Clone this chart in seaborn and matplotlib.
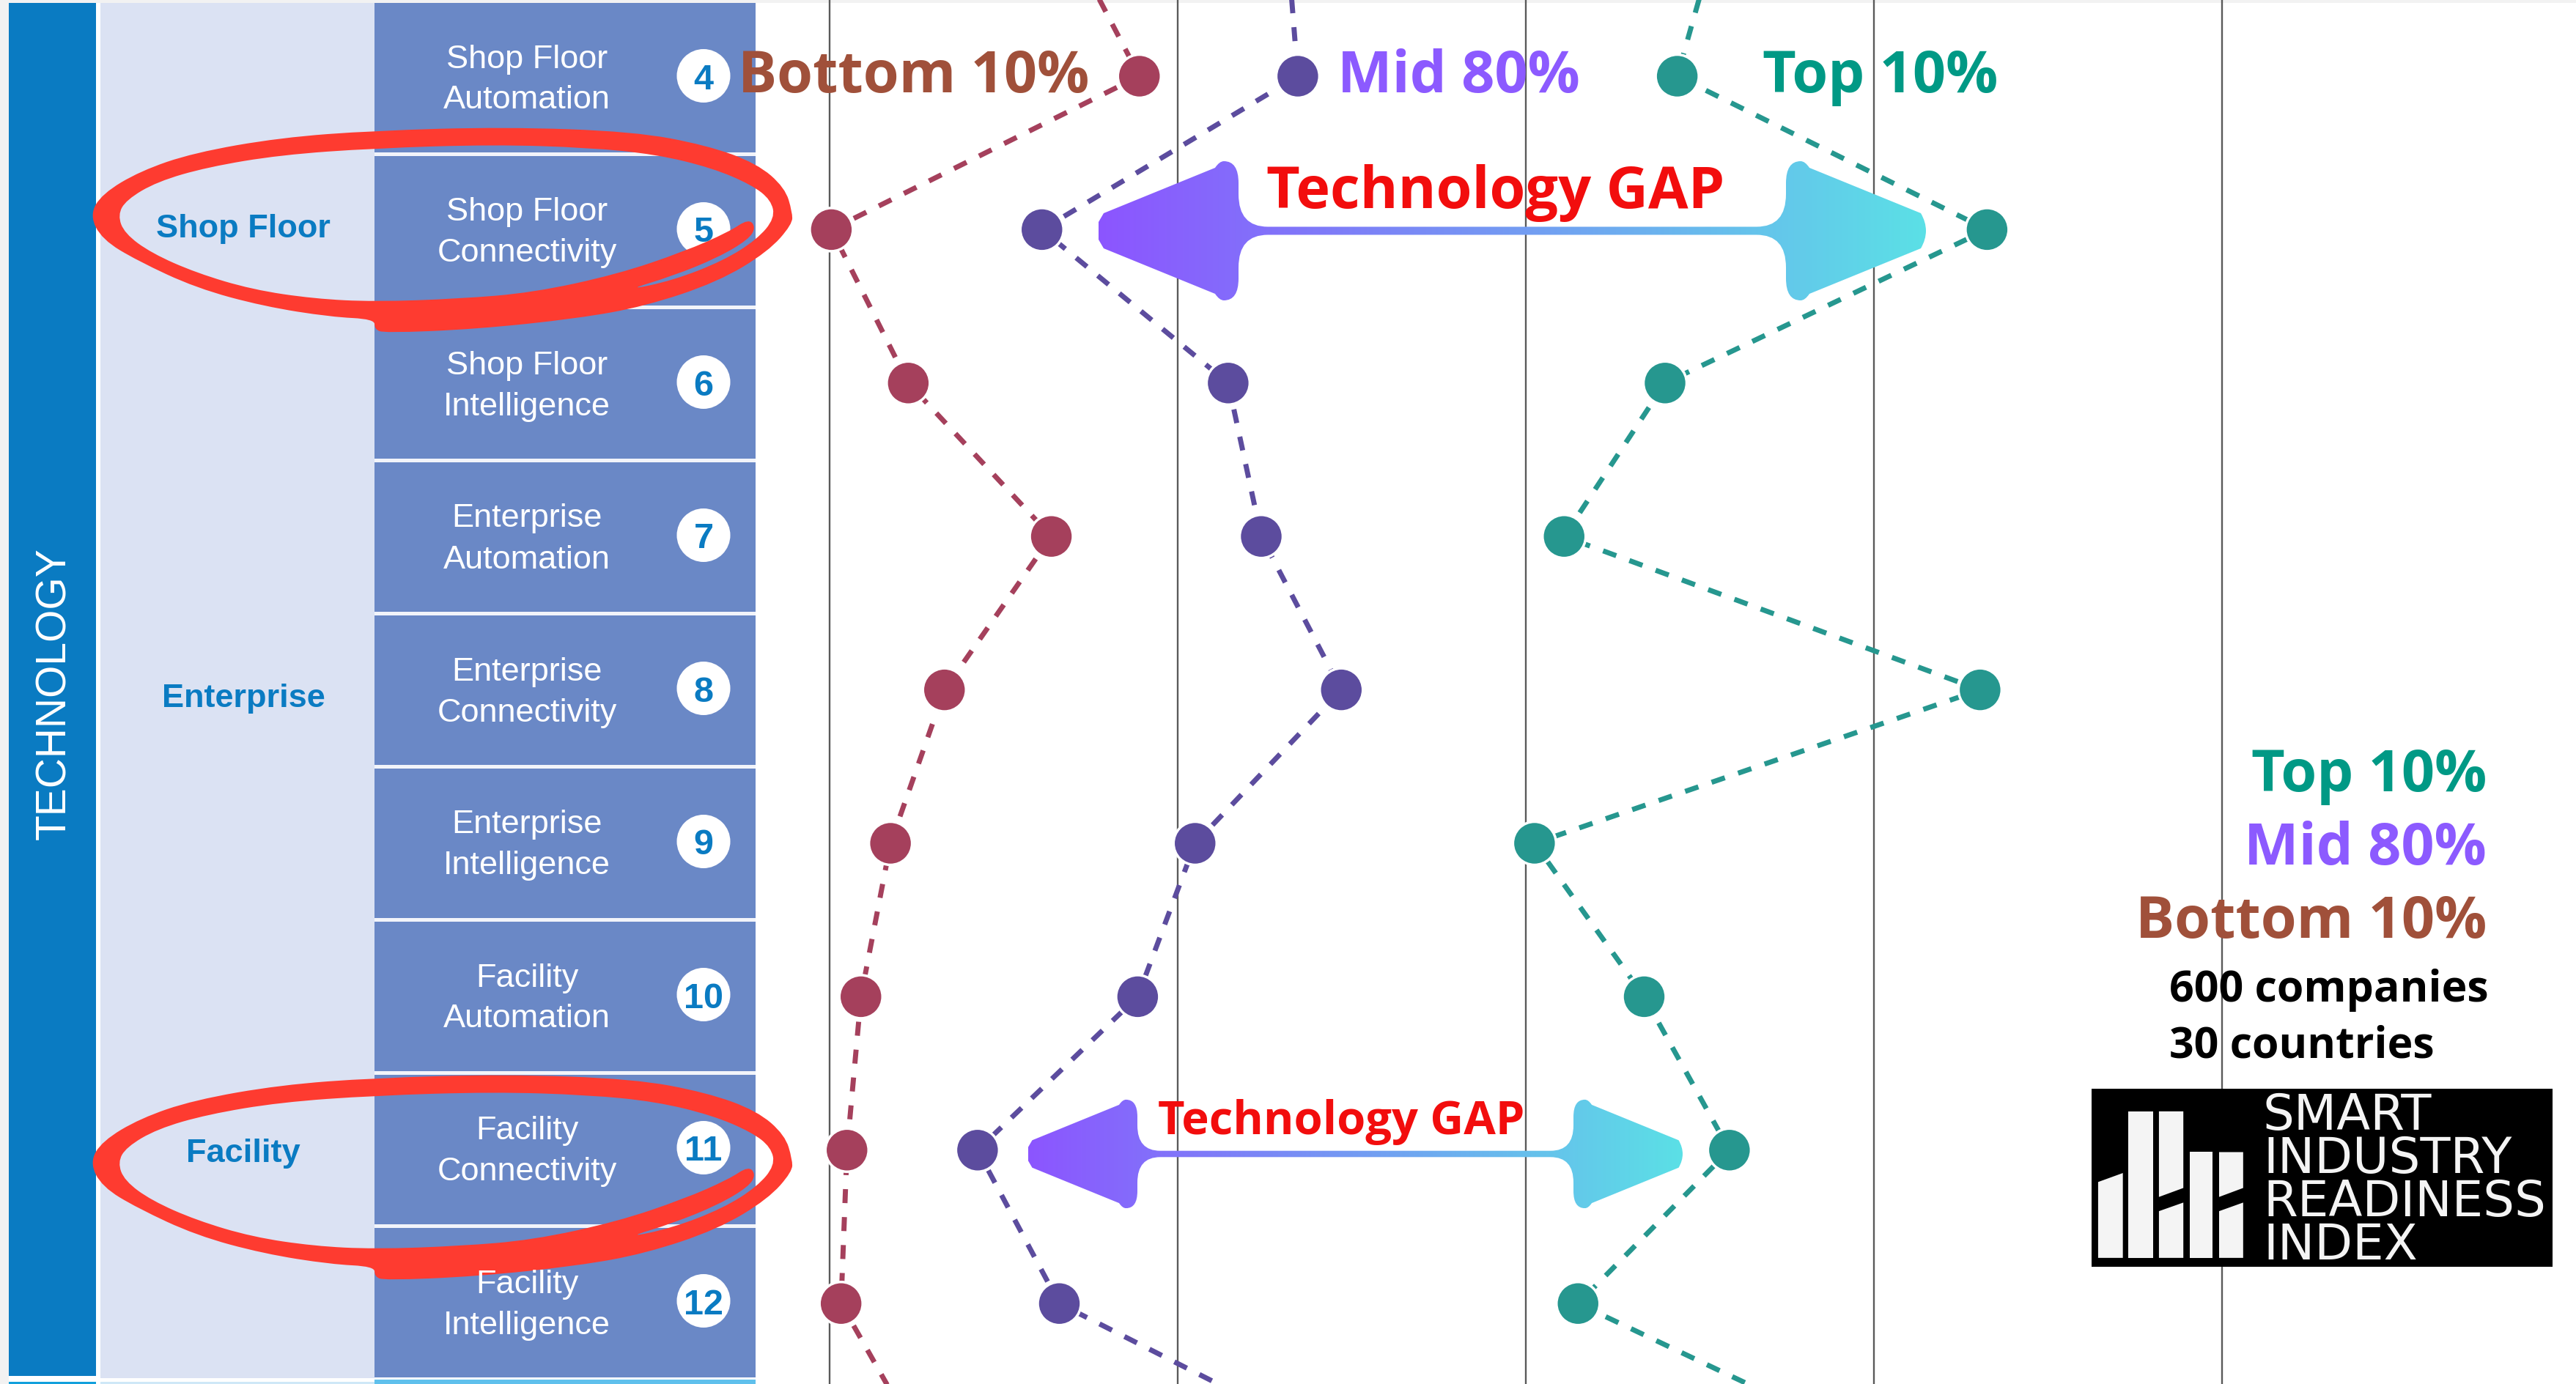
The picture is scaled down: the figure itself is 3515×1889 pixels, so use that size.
import numpy as np
import pandas as pd
import matplotlib
matplotlib.use('Agg')
import matplotlib.pyplot as plt
import seaborn as sns
from matplotlib.patches import Rectangle, Circle, PathPatch, Polygon
from matplotlib.path import Path

# rows of the index, 3 and 13 run off the picture
rows = [3, 4, 5, 6, 7, 8, 9, 10, 11, 12, 13]
bottom_10 = [0.66, 0.89, 0.005, 0.226, 0.637, 0.33, 0.175, 0.09, 0.05, 0.033, 0.283]
mid_80 = [1.31, 1.345, 0.61, 1.145, 1.24, 1.47, 1.05, 0.885, 0.425, 0.66, 1.53]
top_10 = [2.56, 2.435, 3.325, 2.40, 2.11, 3.305, 2.025, 2.34, 2.585, 2.15, 3.08]
grid_ticks = [0, 1, 2, 3, 4]

row_labels = {4: ('Shop Floor', 'Automation'), 5: ('Shop Floor', 'Connectivity'), 6: ('Shop Floor', 'Intelligence'),
              7: ('Enterprise', 'Automation'), 8: ('Enterprise', 'Connectivity'), 9: ('Enterprise', 'Intelligence'),
              10: ('Facility', 'Automation'), 11: ('Facility', 'Connectivity'), 12: ('Facility', 'Intelligence')}
group_labels = ['Shop Floor', 'Enterprise', 'Facility']
logo_lines = ['SMART', 'INDUSTRY', 'READINESS', 'INDEX']

BLUE = '#0a7bc2'
LIGHT = '#dbe2f3'
MID = '#6a88c6'
RED = '#fe3b30'
TEAL = '#26978f'
PURPLE = '#5c4c9e'
WINE = '#a5405c'
palette = {'Bottom 10%': WINE, 'Mid 80%': PURPLE, 'Top 10%': TEAL}

W, H = 3515, 1890
ROW_H = 209.4
ROW_Y0 = 105  # pixel centre of row 4 for the chart
TABLE_H = 209.0
TABLE_Y0 = 104.5  # the table rows are a touch tighter
GRID_X0, GRID_DX = 1132, 475

df = pd.DataFrame({'row': rows, 'Bottom 10%': bottom_10, 'Mid 80%': mid_80, 'Top 10%': top_10})
df = df.melt(id_vars='row', var_name='group', value_name='score')

sns.set_theme(style='white')
fig = plt.figure(figsize=(W / 100, H / 100), dpi=100, facecolor='white')

# layer under the chart: the table on the left
bg = fig.add_axes([0, 0, 1, 1], zorder=1)
bg.set_xlim(0, W)
bg.set_ylim(H, 0)
bg.axis('off')

bg.add_patch(Rectangle((0, 0), 12, H, color='#f2f2f2', lw=0))
bg.add_patch(Rectangle((0, 0), W, 5, color='#f2f2f2', lw=0))
bg.add_patch(Rectangle((12, 5), 119, 1874, color=BLUE, lw=0))
bg.add_patch(Rectangle((137, 5), 374, 1877, color=LIGHT, lw=0))
bg.add_patch(Rectangle((12, 1887), 119, 5, color='#12a0dc', lw=0))
bg.add_patch(Rectangle((137, 1887), 374, 5, color='#cfe8f7', lw=0))
bg.add_patch(Rectangle((511, 5), 520, 1876, color=MID, lw=0))
bg.add_patch(Rectangle((511, 1884), 520, 8, color='#5fc0ec', lw=0))

for r, (l1, l2) in row_labels.items():
    yc = TABLE_Y0 + (r - 4) * TABLE_H
    if r < 12:
        bg.add_patch(Rectangle((511, yc + TABLE_H / 2), 520, 4.5, color='#f2f4fa', lw=0))
    bg.text(719, yc - 12, l1, color='white', fontsize=32.5, family='Liberation Sans', ha='center', va='baseline')
    bg.text(719, yc + 44, l2, color='white', fontsize=32.5, family='Liberation Sans', ha='center', va='baseline')
    bg.add_patch(Circle((960, yc), 36.5, color='white', lw=0))
    bg.text(960, yc + 17, str(r), color=BLUE, fontsize=35, family='Liberation Sans', weight='bold',
            ha='center', va='baseline')

bg.text(74, 947, 'TECHNOLOGY', color='white', fontsize=41, family='Liberation Sans', rotation=90,
        ha='center', va='center')
for label, y in zip(group_labels, [324, 965, 1586]):
    bg.text(332, y, label, color=BLUE, fontsize=32.5, family='Liberation Sans', weight='bold',
            ha='center', va='baseline')

# the hand drawn circles, outer edge and the inner edge with the sliver by the tail
outer_x = [1413, 1400, 1350, 1260, 1130, 900, 668, 500, 345, 250, 182, 160, 182, 245, 350, 470, 590, 668, 668, 685,
           850, 1030, 1150, 1280, 1370, 1413]
outer_y = [700, 620, 540, 480, 435, 420, 432, 455, 505, 565, 640, 710, 790, 860, 950, 1010, 1045, 1052, 1085, 1098,
           1085, 1050, 1010, 930, 830, 740]
inner_x = [1335, 1348, 1335, 1280, 1200, 1115, 1200, 1290, 1350, 1382, 1375, 1340, 1270, 1170, 1050, 880, 668, 500,
           370, 280, 225, 210, 222, 270, 350, 450, 560, 668, 820, 950, 1100, 1220, 1300]
inner_y = [722, 750, 790, 850, 910, 958, 925, 860, 790, 720, 660, 610, 555, 510, 488, 478, 490, 512, 552, 600, 660,
           710, 770, 835, 900, 955, 985, 995, 985, 965, 905, 830, 765]


def closed_curve(xs, ys, dy):
    # zoom coordinates to pixels, then a smooth closed loop through the midpoints
    pts = np.column_stack([np.array(xs) / 1.307, np.array(ys) / 2.41 + dy])
    mids = (pts + np.roll(pts, -1, axis=0)) / 2
    verts = [mids[-1]]
    codes = [Path.MOVETO]
    for p, m in zip(pts, mids):
        verts += [p, m]
        codes += [Path.CURVE3, Path.CURVE3]
    return verts, codes


for dy in [0, 1293]:
    v1, c1 = closed_curve(outer_x, outer_y, dy)
    v2, c2 = closed_curve(inner_x[::-1], inner_y[::-1], dy)
    bg.add_patch(PathPatch(Path(v1 + v2, c1 + c2), fc=RED, ec='none', lw=0))

# the chart itself
ax = fig.add_axes([0, 0, 1, 1], zorder=2)
ax.patch.set_alpha(0)
sns.lineplot(data=df, x='score', y='row', hue='group', palette=palette, orient='y', estimator=None,
             legend=False, lw=5, linestyle=(0, (2.75, 2.75)), ax=ax)
sns.scatterplot(data=df, x='score', y='row', hue='group', palette=palette, s=1800, edgecolor='white',
                linewidth=2.5, legend=False, ax=ax, zorder=3, clip_on=True)
ax.set_xlim(-GRID_X0 / GRID_DX, (W - GRID_X0) / GRID_DX)
ax.set_ylim(4 + (H - ROW_Y0) / ROW_H, 4 - ROW_Y0 / ROW_H)
ax.set_xticks(grid_ticks)
ax.set_yticks([])
ax.set_xticklabels([])
ax.grid(axis='x', color='#5a5a5a', lw=1.7)
ax.set_axisbelow(True)
ax.tick_params(length=0)
ax.set(xlabel='', ylabel='')
sns.despine(ax=ax, left=True, bottom=True)

# layer on top: arrows, captions, logo
top = fig.add_axes([0, 0, 1, 1], zorder=3)
top.set_xlim(0, W)
top.set_ylim(H, 0)
top.axis('off')


def gap_arrow(x0, x1, yc, k):
    head, half, shaft, fil = 191 * k, 95 * k, 5.5 * k, 40 * k
    xa, xb = x0 + head, x1 - head
    M, L, C = Path.MOVETO, Path.LINETO, Path.CURVE3
    verts = [(x0, yc + 12 * k), (x0, yc), (x0, yc - 12 * k), (x0 + 7 * k, yc - 24 * k),
             (xa - 32 * k, yc - half + 9 * k), (xa - 26 * k, yc - half), (xa - 20 * k, yc - half),
             (xa, yc - half), (xa, yc - half + 30 * k), (xa, yc - 50 * k), (xa, yc - shaft), (xa + fil, yc - shaft),
             (xb - fil, yc - shaft), (xb, yc - shaft), (xb, yc - 50 * k), (xb, yc - half + 30 * k), (xb, yc - half),
             (xb + 20 * k, yc - half), (xb + 26 * k, yc - half), (xb + 32 * k, yc - half + 9 * k),
             (x1 - 7 * k, yc - 24 * k), (x1, yc - 12 * k), (x1, yc), (x1, yc + 12 * k), (x1 - 7 * k, yc + 24 * k),
             (xb + 32 * k, yc + half - 9 * k), (xb + 26 * k, yc + half), (xb + 20 * k, yc + half),
             (xb, yc + half), (xb, yc + half - 30 * k), (xb, yc + 50 * k), (xb, yc + shaft), (xb - fil, yc + shaft),
             (xa + fil, yc + shaft), (xa, yc + shaft), (xa, yc + 50 * k), (xa, yc + half - 30 * k), (xa, yc + half),
             (xa - 20 * k, yc + half), (xa - 26 * k, yc + half), (xa - 32 * k, yc + half - 9 * k),
             (x0 + 7 * k, yc + 24 * k), (x0, yc + 12 * k)]
    codes = [M, C, C, L, L, C, C, C, C, L, C, C, L, C, C, L, C, C, C, C, L, C, C, C, C, L, C, C, C, C, L, C, C, L,
             C, C, L, C, C, C, C, L, L]
    patch = PathPatch(Path(verts, codes), fc='none', ec='none', transform=top.transData)
    top.add_patch(patch)
    left = np.array(matplotlib.colors.to_rgb('#8c55ff'))
    right = np.array(matplotlib.colors.to_rgb('#5be0e6'))
    t = np.linspace(0, 1, 256)[:, None]
    grad = (left + (right - left) * t)[None, :, :]
    im = top.imshow(grad, extent=(x0, x1, yc + half, yc - half), aspect='auto', zorder=1, interpolation='bilinear')
    im.set_clip_path(patch)


gap_arrow(1499, 2628, 316, 1.0)
gap_arrow(1403, 2296, 1576, 0.78)
top.set_xlim(0, W)
top.set_ylim(H, 0)

OS = 'Open Sans'
BROWN = '#a0503a'
VIOLET = '#8c5aff'
GREEN = '#009985'
top.text(1007, 126, 'Bottom 10%', color=BROWN, fontsize=57, family=OS, weight='bold', va='baseline', zorder=5)
top.text(1825, 126, 'Mid 80%', color=VIOLET, fontsize=57, family=OS, weight='bold', va='baseline', zorder=5)
top.text(2405, 126, 'Top 10%', color=GREEN, fontsize=57, family=OS, weight='bold', va='baseline', zorder=5)
top.text(1728, 284, 'Technology GAP', color='#f20d0d', fontsize=57, family=OS, weight='bold', va='baseline', zorder=5)
top.text(1580, 1548, 'Technology GAP', color='#f20d0d', fontsize=45.5, family=OS, weight='bold', va='baseline', zorder=5)

top.text(3393, 1080, 'Top 10%', color=GREEN, fontsize=57, family=OS, weight='bold', ha='right', va='baseline', zorder=5)
top.text(3393, 1180, 'Mid 80%', color=VIOLET, fontsize=57, family=OS, weight='bold', ha='right', va='baseline', zorder=5)
top.text(3393, 1280, 'Bottom 10%', color=BROWN, fontsize=57, family=OS, weight='bold', ha='right', va='baseline', zorder=5)
top.text(2960, 1367, '600 companies', color='black', fontsize=42.5, family=OS, weight='bold', va='baseline', zorder=5)
top.text(2960, 1443, '30 countries', color='black', fontsize=42.5, family=OS, weight='bold', va='baseline', zorder=5)

# logo
top.add_patch(Rectangle((2854, 1487), 629, 243, color='black', lw=0, zorder=3))


def zx(v):
    return 2800 + v / 2.193


def zy(v):
    return 950 + v / 1.96


logo_bars = [[(138, 1302), (212, 1278), (212, 1505), (138, 1505)],
             [(229, 1113), (302, 1113), (302, 1505), (229, 1505)],
             [(320, 1113), (393, 1113), (393, 1318), (320, 1342)],
             [(320, 1380), (393, 1357), (393, 1505), (320, 1505)],
             [(413, 1222), (481, 1222), (481, 1505), (413, 1505)],
             [(500, 1222), (572, 1222), (572, 1318), (500, 1342)],
             [(500, 1380), (572, 1357), (572, 1505), (500, 1505)]]
for bar in logo_bars:
    top.add_patch(Polygon([(zx(a), zy(b)) for a, b in bar], color='#f4f4f4', lw=0, zorder=4))
for line, y in zip(logo_lines, [1542, 1601, 1660, 1719]):
    top.text(3088, y, line, color='#f4f4f4', fontsize=48.5, family='DejaVu Sans', va='baseline', zorder=5)

fig.savefig('out.png', dpi=100)
